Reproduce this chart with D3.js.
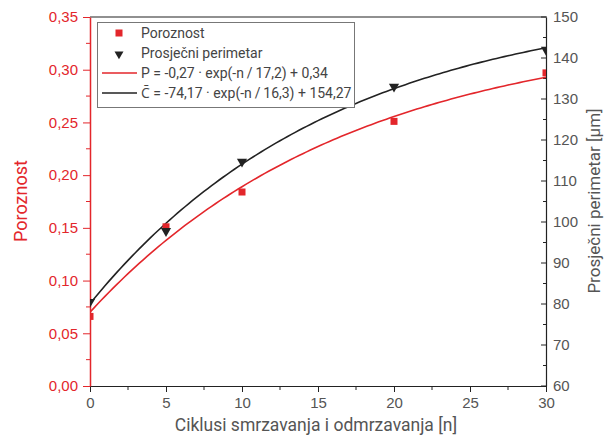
<!DOCTYPE html>
<html>
<head>
<meta charset="utf-8">
<script src="https://cdn.jsdelivr.net/npm/d3@7"></script>
<style>
  html, body { margin: 0; padding: 0; background: #fff; }
  svg { display: block; font-family: Roboto, "Open Sans", sans-serif; }
</style>
</head>
<body>
<svg id="chart" width="616" height="439"></svg>
<script>
// Freeze–thaw cycles measured
const cycles = [0, 5, 10, 20, 30];
// Porosity at each cycle count
const porosity = [0.066, 0.151, 0.184, 0.251, 0.297];
// Mean pore perimeter [µm] at each cycle count
const perimeter = [80.5, 97.8, 114.7, 133.0, 142.0];

// Fitted exponential models (coefficients as printed in the legend)
const fitP = { a: -0.27, t: 17.2, c: 0.34 };
const fitC = { a: -74.17, t: 16.3, c: 154.27 };

const xTicks = [0, 5, 10, 15, 20, 25, 30];
const leftTicks = [0, 0.05, 0.10, 0.15, 0.20, 0.25, 0.30, 0.35];
const rightTicks = [60, 70, 80, 90, 100, 110, 120, 130, 140, 150];

const legendLabels = [
  "Poroznost",
  "Prosječni perimetar",
  "P = -0,27 · exp(-n\u2009/\u200917,2) + 0,34",
  "C\u0304 = -74,17 · exp(-n\u2009/\u200916,3) + 154,27"
];

const RED = "#e3262b";
const DARK = "#222";
const GREY = "#555";

const svg = d3.select("#chart");
const m = { left: 90, right: 546, top: 17, bottom: 386 };

const x = d3.scaleLinear().domain([0, 30]).range([m.left, m.right]);
const yL = d3.scaleLinear().domain([0, 0.35]).range([m.bottom, m.top]);
const yR = d3.scaleLinear().domain([60, 150]).range([m.bottom, m.top]);

const fmt2 = d3.format(".2f");
const comma = v => fmt2(v).replace(".", ",");

// Clip marks to the plotting frame
svg.append("defs").append("clipPath").attr("id", "plotClip")
  .append("rect")
  .attr("x", m.left).attr("y", m.top)
  .attr("width", m.right - m.left).attr("height", m.bottom - m.top);

// Top frame line
svg.append("line")
  .attr("x1", m.left).attr("x2", m.right)
  .attr("y1", m.top).attr("y2", m.top)
  .attr("stroke", DARK).attr("stroke-width", 1.2);

// Bottom axis
const xAxis = svg.append("g")
  .attr("transform", `translate(0,${m.bottom})`)
  .call(d3.axisBottom(x).tickValues(xTicks).tickSize(6).tickPadding(5).tickSizeOuter(0));
xAxis.select(".domain").attr("stroke", DARK).attr("stroke-width", 1.2);
xAxis.selectAll(".tick line").attr("stroke", DARK);
xAxis.selectAll(".tick text").attr("fill", GREY).attr("font-size", 15);
svg.append("g").selectAll("line")
  .data(d3.range(2.5, 30, 5))
  .join("line")
  .attr("x1", d => x(d)).attr("x2", d => x(d))
  .attr("y1", m.bottom).attr("y2", m.bottom + 4)
  .attr("stroke", DARK);

// Left axis (porosity)
const lAxis = svg.append("g")
  .attr("transform", `translate(${m.left},0)`)
  .call(d3.axisLeft(yL).tickValues(leftTicks).tickFormat(comma).tickSize(7).tickPadding(5).tickSizeOuter(0));
lAxis.select(".domain").attr("stroke", RED).attr("stroke-width", 1.5);
lAxis.selectAll(".tick line").attr("stroke", RED);
lAxis.selectAll(".tick text").attr("fill", RED).attr("font-size", 15);
svg.append("g").selectAll("line")
  .data(d3.range(0.025, 0.35, 0.05))
  .join("line")
  .attr("x1", m.left - 4).attr("x2", m.left)
  .attr("y1", d => yL(d)).attr("y2", d => yL(d))
  .attr("stroke", RED);

// Right axis (perimeter)
const rAxis = svg.append("g")
  .attr("transform", `translate(${m.right},0)`)
  .call(d3.axisRight(yR).tickValues(rightTicks).tickSize(0).tickPadding(7).tickSizeOuter(0));
rAxis.select(".domain").attr("stroke", DARK).attr("stroke-width", 1.2);
rAxis.selectAll(".tick text").attr("fill", GREY).attr("font-size", 15);
svg.append("g").selectAll("line")
  .data(rightTicks)
  .join("line")
  .attr("x1", m.right - 5).attr("x2", m.right + 1)
  .attr("y1", d => yR(d)).attr("y2", d => yR(d))
  .attr("stroke", DARK);
svg.append("g").selectAll("line")
  .data(d3.range(65, 150, 10))
  .join("line")
  .attr("x1", m.right - 3).attr("x2", m.right)
  .attr("y1", d => yR(d)).attr("y2", d => yR(d))
  .attr("stroke", DARK);

// Axis titles
svg.append("text")
  .attr("transform", `translate(27,201) rotate(-90)`)
  .attr("text-anchor", "middle")
  .attr("fill", RED).attr("font-size", 18)
  .text("Poroznost");
svg.append("text")
  .attr("transform", `translate(600,201) rotate(-90)`)
  .attr("text-anchor", "middle")
  .attr("fill", GREY).attr("font-size", 17)
  .text("Prosječni perimetar [µm]");
svg.append("text")
  .attr("x", 316).attr("y", 431)
  .attr("text-anchor", "middle")
  .attr("fill", GREY).attr("font-size", 17.5)
  .text("Ciklusi smrzavanja i odmrzavanja [n]");

// Fitted curves
const plot = svg.append("g").attr("clip-path", "url(#plotClip)");
const ns = d3.range(0, 30.001, 0.25);
const curve = (f, ys) => d3.line()
  .x(n => x(n))
  .y(n => ys(f.a * Math.exp(-n / f.t) + f.c));

plot.append("path")
  .attr("d", curve(fitP, yL)(ns))
  .attr("fill", "none").attr("stroke", RED).attr("stroke-width", 1.6);
plot.append("path")
  .attr("d", curve(fitC, yR)(ns))
  .attr("fill", "none").attr("stroke", DARK).attr("stroke-width", 1.6);

// Measured points
const sq = 7;
plot.append("g").selectAll("rect")
  .data(cycles.map((n, i) => [n, porosity[i]]))
  .join("rect")
  .attr("x", d => x(d[0]) - sq / 2).attr("y", d => yL(d[1]) - sq / 2)
  .attr("width", sq).attr("height", sq)
  .attr("fill", RED);

const tri = d3.symbol().type(d3.symbolTriangle).size(45);
plot.append("g").selectAll("path")
  .data(cycles.map((n, i) => [n, perimeter[i]]))
  .join("path")
  .attr("d", tri)
  .attr("transform", d => `translate(${x(d[0])},${yR(d[1])}) rotate(180)`)
  .attr("fill", DARK);

// Legend
const lg = svg.append("g");
lg.append("rect")
  .attr("x", 97.5).attr("y", 22.5).attr("width", 257).attr("height", 85)
  .attr("fill", "#fff").attr("stroke", "#777").attr("stroke-width", 1);
const rowY = [33, 53, 73, 93];
lg.append("rect")
  .attr("x", 119 - 3.5).attr("y", rowY[0] - 3.5).attr("width", 7).attr("height", 7)
  .attr("fill", RED);
lg.append("path")
  .attr("d", d3.symbol().type(d3.symbolTriangle).size(35))
  .attr("transform", `translate(119,${rowY[1] + 1}) rotate(180)`)
  .attr("fill", DARK);
lg.append("line")
  .attr("x1", 102).attr("x2", 137).attr("y1", rowY[2]).attr("y2", rowY[2])
  .attr("stroke", RED).attr("stroke-width", 1.6);
lg.append("line")
  .attr("x1", 102).attr("x2", 137).attr("y1", rowY[3]).attr("y2", rowY[3])
  .attr("stroke", DARK).attr("stroke-width", 1.6);
lg.selectAll("text.lbl")
  .data(legendLabels)
  .join("text")
  .attr("class", "lbl")
  .attr("x", 141).attr("y", (d, i) => rowY[i])
  .attr("dy", "0.35em")
  .attr("fill", "#444").attr("font-size", 14)
  .text(d => d);
</script>
</body>
</html>
